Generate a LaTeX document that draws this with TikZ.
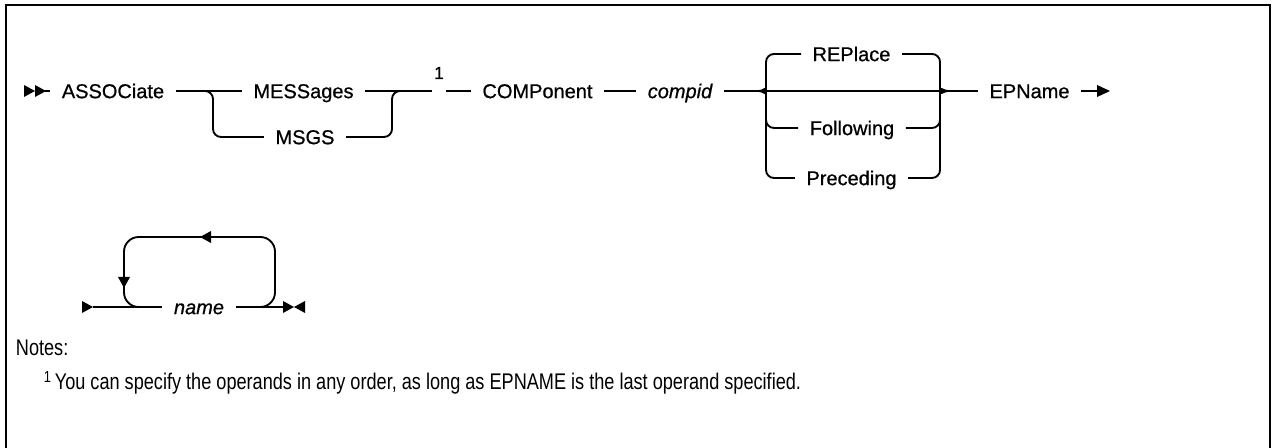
\documentclass[tikz,border=0pt]{standalone}
\usepackage{fontspec}
\setmainfont{Liberation Sans}[FakeBold=0.6]
\newfontfamily\kwfont{Liberation Sans}[FakeBold=0.7]
\newfontfamily\kwifont{Liberation Sans Italic}[FakeBold=0.7]
\newfontfamily\notefont{Liberation Sans}[FakeStretch=0.80]
\begin{document}
\begin{tikzpicture}[x=0.75pt,y=-0.75pt,
  line width=1.4pt,
  kw/.style={inner xsep=8pt,inner ysep=0pt,text height=10.7pt,text depth=0pt,font=\fontsize{15pt}{18pt}\kwfont},
  kwi/.style={kw,font=\fontsize{15pt}{18pt}\kwifont},
  fnmark/.style={inner sep=0pt,font=\fontsize{13pt}{15pt}\kwfont},
  rc/.style={rounded corners=6pt},
  frame/.style={line width=1.6pt},
  notes/.style={inner sep=0pt,anchor=west,font=\fontsize{17pt}{20pt}\notefont}]
\useasboundingbox (0,0) rectangle (1273,448);
% frame
\draw[frame] (6,448) -- (6,5) -- (1270,5) -- (1270,448);

% ---------- first diagram ----------
\fill (24,85) -- (35,91) -- (24,97) -- cycle;
\fill (35,85) -- (46,91) -- (35,97) -- cycle;
\coordinate (st) at (44,91);
\node[kw] (assoc) at (113,91) {ASSOCiate};
\node[kw] (mess) at (303.5,91) {MESSages};
\node[kw] (msgs) at (305,137) {MSGS};
\node[fnmark] (one) at (439,73) {1};
\node[kw] (comp) at (537.5,91) {COMPonent};
\node[kwi] (compid) at (680,91) {compid};
\node[kw] (repl) at (851.5,54) {REPlace};
\node[kw] (foll) at (852,128) {Following};
\node[kw] (prec) at (851.5,178) {Preceding};
\node[kw] (epn) at (1029.5,91) {EPName};
\coordinate (g1) at (432,91);
\coordinate (g2) at (446,91);
\coordinate (ltip) at (759,91);
\coordinate (rtip) at (948,91);
\coordinate (e1) at (1098,91);

\draw (st) -- (assoc.west);
\draw (assoc.east) -- (mess.west);
\draw[rc] (203,91) -- (213,91) -- (213,137) -- (msgs.west);
\draw[rc] (msgs.east) -- (392,137) -- (392,91) -- (402,91);
\draw (mess.east) -- (g1);
\draw (g2) -- (comp.west);
\draw (comp.east) -- (compid.west);
\draw (compid.east) -- (epn.west);
% left brace
\draw[rc] (repl.west) -- (766,54) -- (766,82) to[out=-90,in=0] (ltip);
\draw[rc] (ltip) to[out=0,in=90] (766,100) -- (766,178) -- (prec.west);
\draw[rc] (766,118) -- (766,128) -- (foll.west);
% right brace
\draw[rc] (repl.east) -- (940,54) -- (940,82) to[out=-90,in=180] (rtip);
\draw[rc] (prec.east) -- (940,178) -- (940,100) to[out=90,in=180] (rtip);
\draw[rc] (foll.east) -- (940,128) -- (940,118);
% end arrow
\draw (epn.east) -- (e1);
\fill (1097,85) -- (1110,91) -- (1097,97) -- cycle;

% ---------- second diagram ----------
\fill (82,301) -- (93,307) -- (82,313) -- cycle;
\coordinate (b0) at (93,307);
\node[kwi] (name) at (199,307) {name};
\coordinate (b1) at (283,307);
\draw (b0) -- (name.west);
\draw (name.east) -- (b1);
\fill (283,301) -- (294,307) -- (283,313) -- cycle;
\fill (305,301) -- (294,307) -- (305,313) -- cycle;
\draw[rounded corners=11pt] (150,307) -- (124,307) -- (124,237) -- (275,237) -- (275,307) -- (250,307);
\fill (200,237) -- (211,231) -- (211,243) -- cycle;
\fill (124,288) -- (118,277) -- (130,277) -- cycle;

% ---------- notes ----------
\node[notes] (nt) at (15,348) {Notes:};
\node[notes] (fn) at (43,383) {\raisebox{0.6ex}{\fontsize{12pt}{13pt}\selectfont 1}\,You can specify the operands in any order, as long as EPNAME is the last operand specified.};
\end{tikzpicture}
\end{document}
